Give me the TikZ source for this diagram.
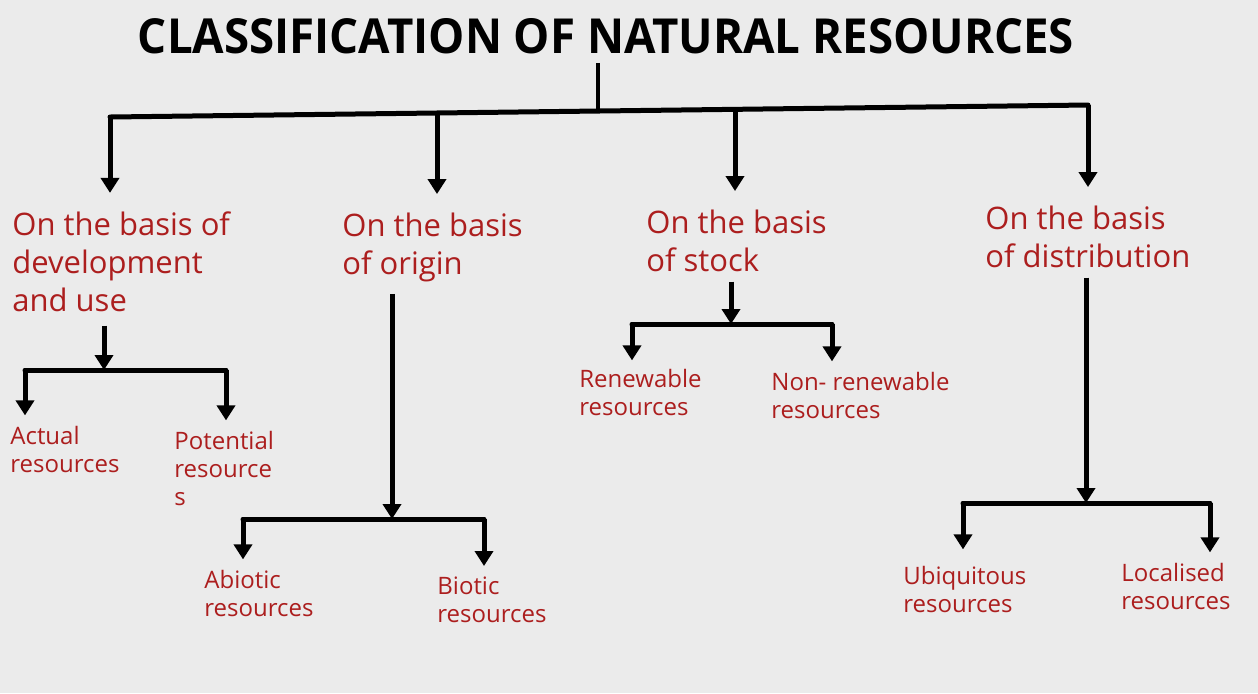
\documentclass[tikz,border=0pt]{standalone}
\usepackage{fontspec}
\setmainfont{Open Sans}
\usepackage{graphicx}
\usepackage{xcolor}
\usetikzlibrary{arrows.meta}
\definecolor{resred}{RGB}{172,30,30}
\definecolor{bggray}{RGB}{235,235,235}

\tikzset{
  cat/.style={text=resred, font=\fontsize{15.5}{19}\selectfont, align=left, inner sep=0pt, anchor=base west},
  leaf/.style={text=resred, font=\fontsize{12}{14}\selectfont, align=left, inner sep=0pt, anchor=base west},
  bar/.style={line width=2.5pt, line cap=round},
  arr/.style={line width=2.5pt, -{Triangle[width=9pt,length=7.5pt]}},
}

\begin{document}
\begin{tikzpicture}[x=0.5pt, y=-0.5pt]
  % Background
  \fill[bggray] (0,0) rectangle (1258,693);
  \useasboundingbox (0,0) rectangle (1258,693);

  % Title
  \node[inner sep=0pt, anchor=base] (title) at (606,53) {\resizebox{468pt}{17.5pt}{\bfseries CLASSIFICATION OF NATURAL RESOURCES}};

  % Main bar
  \coordinate (hub) at (598,111);
  \coordinate (m1) at (110,117);
  \coordinate (m2) at (437,113);
  \coordinate (m3) at (735,109);
  \coordinate (m4) at (1088,105);
  \draw[line width=1.6pt, shorten <=4.5pt] (title.south -| hub) -- (hub);
  \draw[bar] (m1) -- (m4);

  % Categories (placed by the baseline of the last line)
  \node[cat] (dev) at (12,311) {On the basis of\\development\\and use};
  \node[cat] (org) at (342,274) {On the basis\\of origin};
  \node[cat] (stk) at (646,271) {On the basis\\of stock};
  \node[cat] (dst) at (985,267) {On the basis\\of distribution};
  \foreach \m/\c in {m1/dev, m2/org, m3/stk, m4/dst}
    \draw[arr, shorten >=9pt] (\m) -- (\m |- \c.north);

  % Development and use
  \node[leaf] (act) at (10,472) {Actual\\resources};
  \node[leaf] (pot) at (174,505) {Potential\\resource\\s};
  \coordinate (dh) at (104,370);
  \coordinate (dl) at (25,370);
  \coordinate (dr) at (226,370);
  \draw[arr, shorten <=7pt] (dev.south -| dh) -- (dh);
  \draw[bar] (dl) -- (dr);
  \draw[arr, shorten >=5pt] (dl) -- (dl |- act.north);
  \draw[arr, shorten >=5pt] (dr) -- (dr |- pot.north);

  % Origin
  \node[leaf] (abio) at (204,616) {Abiotic\\resources};
  \node[leaf] (bio) at (437,622) {Biotic\\resources};
  \coordinate (oh) at (392,519);
  \coordinate (ol) at (243,519);
  \coordinate (or) at (484,519);
  \draw[arr, shorten <=6pt] (org.south -| oh) -- (oh);
  \draw[bar] (ol) -- (or);
  \draw[arr, shorten >=5pt] (ol) -- (ol |- abio.north);
  \draw[arr, shorten >=5pt] (or) -- (or |- bio.north);

  % Stock
  \node[leaf] (ren) at (579,415) {Renewable\\resources};
  \node[leaf] (nren) at (771,418) {Non- renewable\\resources};
  \coordinate (sh) at (731,324);
  \coordinate (sl) at (632,324);
  \coordinate (sr) at (832,324);
  \draw[arr, shorten <=5pt] (stk.south -| sh) -- (sh);
  \draw[bar] (sl) -- (sr);
  \draw[arr, shorten >=4pt] (sl) -- (sl |- ren.north);
  \draw[arr, shorten >=5pt] (sr) -- (sr |- nren.north);

  % Distribution
  \node[leaf] (ubi) at (903,612) {Ubiquitous\\resources};
  \node[leaf] (loc) at (1121,609) {Localised\\resources};
  \coordinate (th) at (1086,503);
  \coordinate (tl) at (963,503);
  \coordinate (tr) at (1210,503);
  \draw[arr, shorten <=5pt] (dst.south -| th) -- (th);
  \draw[bar] (tl) -- (tr);
  \draw[arr, shorten >=8pt] (tl) -- (tl |- ubi.north);
  \draw[arr, shorten >=5pt] (tr) -- (tr |- loc.north);
\end{tikzpicture}
\end{document}
